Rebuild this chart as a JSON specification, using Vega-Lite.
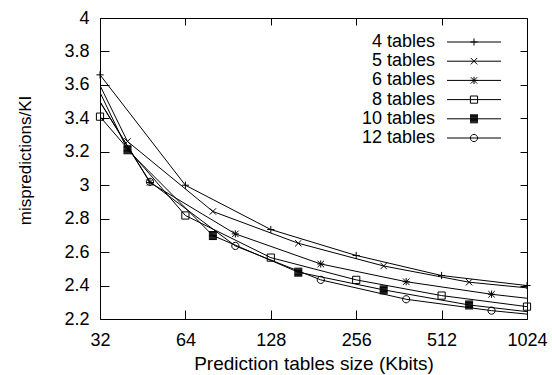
{
  "$schema": "https://vega.github.io/schema/vega-lite/v6.json",
  "autosize": "none",
  "width": 427,
  "height": 301,
  "padding": {"left": 100, "top": 18, "right": 25, "bottom": 56},
  "background": "white",
  "config": {
    "view": {"stroke": "black", "strokeWidth": 1},
    "font": "Liberation Sans",
    "axis": {"grid": false, "domain": false, "tickColor": "black", "tickWidth": 1, "labelColor": "black", "titleColor": "black", "labelFont": "Liberation Sans", "titleFont": "Liberation Sans", "titleFontWeight": "normal"}
  },
  "datasets": {
    "d": [
      {"series": "4 tables", "size": 32, "value": 3.66},
      {"series": "4 tables", "size": 64, "value": 3.0},
      {"series": "4 tables", "size": 128, "value": 2.735},
      {"series": "4 tables", "size": 256, "value": 2.58},
      {"series": "4 tables", "size": 512, "value": 2.46},
      {"series": "4 tables", "size": 1024, "value": 2.4},
      {"series": "5 tables", "size": 20, "value": 4.3},
      {"series": "5 tables", "size": 40, "value": 3.262},
      {"series": "5 tables", "size": 80, "value": 2.843},
      {"series": "5 tables", "size": 160, "value": 2.653},
      {"series": "5 tables", "size": 320, "value": 2.517},
      {"series": "5 tables", "size": 640, "value": 2.42},
      {"series": "5 tables", "size": 1280, "value": 2.37},
      {"series": "6 tables", "size": 24, "value": 3.84},
      {"series": "6 tables", "size": 48, "value": 3.016},
      {"series": "6 tables", "size": 96, "value": 2.709},
      {"series": "6 tables", "size": 192, "value": 2.529},
      {"series": "6 tables", "size": 384, "value": 2.423},
      {"series": "6 tables", "size": 768, "value": 2.348},
      {"series": "6 tables", "size": 1536, "value": 2.29},
      {"series": "8 tables", "size": 32, "value": 3.41},
      {"series": "8 tables", "size": 64, "value": 2.819},
      {"series": "8 tables", "size": 128, "value": 2.567},
      {"series": "8 tables", "size": 256, "value": 2.434},
      {"series": "8 tables", "size": 512, "value": 2.34},
      {"series": "8 tables", "size": 1024, "value": 2.274},
      {"series": "10 tables", "size": 20, "value": 4.277},
      {"series": "10 tables", "size": 40, "value": 3.212},
      {"series": "10 tables", "size": 80, "value": 2.699},
      {"series": "10 tables", "size": 160, "value": 2.48},
      {"series": "10 tables", "size": 320, "value": 2.374},
      {"series": "10 tables", "size": 640, "value": 2.284},
      {"series": "10 tables", "size": 1280, "value": 2.225},
      {"series": "12 tables", "size": 24, "value": 3.84},
      {"series": "12 tables", "size": 48, "value": 3.02},
      {"series": "12 tables", "size": 96, "value": 2.637},
      {"series": "12 tables", "size": 192, "value": 2.434},
      {"series": "12 tables", "size": 384, "value": 2.318},
      {"series": "12 tables", "size": 768, "value": 2.25},
      {"series": "12 tables", "size": 1536, "value": 2.2}
    ]
  },
  "data": {"name": "d"},
  "layer": [
    {
      "mark": {"type": "line", "clip": true, "stroke": "black", "strokeWidth": 1},
      "encoding": {
        "x": {
          "field": "size", "type": "quantitative",
          "scale": {"type": "log", "base": 2, "domain": [32, 1024], "nice": false},
          "axis": {"orient": "bottom", "values": [32, 64, 128, 256, 512, 1024], "format": "d", "title": "Prediction tables size (Kbits)", "tickSize": -9, "labelFontSize": 18, "labelPadding": 21, "labelFlush": false, "labelOverlap": false, "titleFontSize": 19, "titleY": 50, "titleBaseline": "alphabetic"}
        },
        "y": {
          "field": "value", "type": "quantitative",
          "scale": {"domain": [2.2, 4], "nice": false, "zero": false},
          "axis": {"orient": "left", "values": [2.2, 2.4, 2.6, 2.8, 3, 3.2, 3.4, 3.6, 3.8, 4], "format": "~g", "title": "mispredictions/KI", "tickSize": -9, "labelFontSize": 18, "labelPadding": 20, "labelFlush": false, "labelOverlap": false, "titleFontSize": 17, "titleX": -70, "titleY": 142, "titleAngle": -90, "titleBaseline": "alphabetic", "titleAlign": "center"}
        },
        "detail": {"field": "series", "type": "nominal"}
      }
    },
    {
      "transform": [{"filter": "datum.size >= 32 && datum.size <= 1024"}],
      "mark": {"type": "point", "filled": false, "stroke": "black", "strokeWidth": 1, "size": 64, "opacity": 1},
      "encoding": {
        "x": {"field": "size", "type": "quantitative", "axis": null},
        "y": {"field": "value", "type": "quantitative", "axis": null},
        "shape": {
          "field": "series", "type": "nominal",
          "scale": {
            "domain": ["4 tables", "5 tables", "6 tables", "8 tables", "10 tables", "12 tables"],
            "range": [
              "M-0.9,0H0.9M0,-0.9V0.9",
              "M-0.8,-0.8L0.8,0.8M-0.8,0.8L0.8,-0.8",
              "M-0.9,0H0.9M0,-0.9V0.9M-0.8,-0.8L0.8,0.8M-0.8,0.8L0.8,-0.8",
              "M-0.9,-0.9H0.9V0.9H-0.9Z",
              "M-1,-1H1M-1,-0.8H1M-1,-0.6H1M-1,-0.4H1M-1,-0.2H1M-1,0H1M-1,0.2H1M-1,0.4H1M-1,0.6H1M-1,0.8H1M-1,1H1",
              "M0.9,0A0.9,0.9 0 1,1 -0.9,0A0.9,0.9 0 1,1 0.9,0Z"
            ]
          },
          "legend": null
        }
      }
    },
    {
      "transform": [{"filter": "datum.size < 0"}],
      "mark": {"type": "point", "filled": false, "stroke": "black", "strokeWidth": 1, "size": 64},
      "encoding": {
        "x": {"field": "size", "type": "quantitative", "axis": {"orient": "top", "values": [32, 64, 128, 256, 512, 1024], "labels": false, "title": null, "tickSize": -7}},
        "y": {"field": "value", "type": "quantitative", "axis": {"orient": "right", "values": [2.2, 2.4, 2.6, 2.8, 3, 3.2, 3.4, 3.6, 3.8, 4], "labels": false, "title": null, "tickSize": -7}},
        "shape": {
          "field": "series", "type": "nominal",
          "scale": {
            "domain": ["4 tables", "5 tables", "6 tables", "8 tables", "10 tables", "12 tables"],
            "range": [
              "M-0.9,0H0.9M0,-0.9V0.9M-6.75,0H6.75",
              "M-0.8,-0.8L0.8,0.8M-0.8,0.8L0.8,-0.8M-6.75,0H6.75",
              "M-0.9,0H0.9M0,-0.9V0.9M-0.8,-0.8L0.8,0.8M-0.8,0.8L0.8,-0.8M-6.75,0H6.75",
              "M-0.9,-0.9H0.9V0.9H-0.9ZM-6.75,0H6.75",
              "M-1,-1H1M-1,-0.8H1M-1,-0.6H1M-1,-0.4H1M-1,-0.2H1M-1,0H1M-1,0.2H1M-1,0.4H1M-1,0.6H1M-1,0.8H1M-1,1H1M-6.75,0H6.75",
              "M0.9,0A0.9,0.9 0 1,1 -0.9,0A0.9,0.9 0 1,1 0.9,0ZM-6.75,0H6.75"
            ]
          },
          "legend": {"orient": "none", "legendX": 365, "legendY": 15, "title": null, "labelAlign": "right", "labelOffset": -48, "symbolSize": 64, "symbolStrokeWidth": 1, "symbolStrokeColor": "black", "symbolFillColor": "transparent", "symbolOpacity": 1, "labelFontSize": 18, "labelFont": "Liberation Sans", "labelColor": "black", "rowPadding": 1.2, "padding": 0}
        }
      }
    }
  ],
  "resolve": {"scale": {"shape": "independent"}, "axis": {"x": "independent", "y": "independent"}}
}
